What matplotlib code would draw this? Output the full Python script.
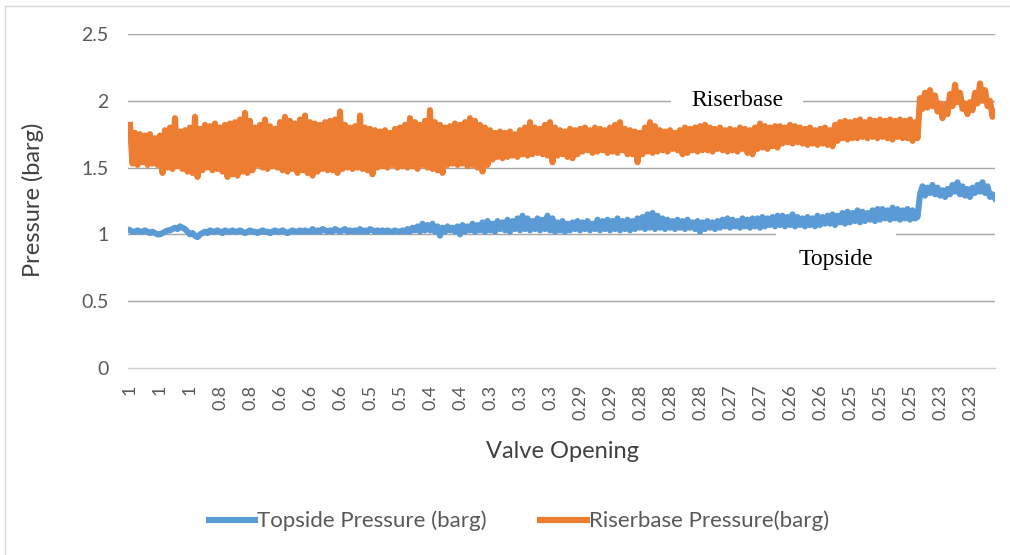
import matplotlib
matplotlib.use("Agg")
import matplotlib.pyplot as plt
from matplotlib.lines import Line2D
import numpy as np

# ---- data ----
tick_labels = ["1", "1", "1", "0.8", "0.8", "0.6", "0.6", "0.6", "0.5", "0.5",
               "0.4", "0.4", "0.3", "0.3", "0.3", "0.29", "0.29", "0.28", "0.28",
               "0.28", "0.27", "0.27", "0.26", "0.26", "0.25", "0.25", "0.25",
               "0.23", "0.23"]
tick_step = 12

riserbase = [
    1.82, 1.53, 1.76, 1.52, 1.75, 1.54, 1.74, 1.52, 1.75, 1.53,
    1.72, 1.52, 1.74, 1.46, 1.78, 1.50, 1.80, 1.49, 1.87, 1.51,
    1.77, 1.49, 1.78, 1.47, 1.80, 1.46, 1.88, 1.43, 1.79, 1.48,
    1.82, 1.50, 1.81, 1.48, 1.83, 1.49, 1.80, 1.47, 1.82, 1.43,
    1.83, 1.45, 1.84, 1.44, 1.86, 1.47, 1.91, 1.46, 1.85, 1.48,
    1.80, 1.52, 1.82, 1.50, 1.86, 1.49, 1.81, 1.51, 1.79, 1.50,
    1.84, 1.48, 1.88, 1.47, 1.85, 1.49, 1.83, 1.46, 1.86, 1.48,
    1.89, 1.46, 1.84, 1.44, 1.83, 1.47, 1.82, 1.49, 1.84, 1.48,
    1.85, 1.48, 1.86, 1.46, 1.92, 1.49, 1.82, 1.50, 1.80, 1.49,
    1.81, 1.50, 1.89, 1.49, 1.80, 1.48, 1.79, 1.45, 1.78, 1.50,
    1.77, 1.51, 1.78, 1.50, 1.76, 1.52, 1.79, 1.50, 1.80, 1.51,
    1.82, 1.50, 1.87, 1.51, 1.84, 1.49, 1.82, 1.52, 1.85, 1.50,
    1.93, 1.49, 1.84, 1.48, 1.82, 1.46, 1.80, 1.52, 1.81, 1.53,
    1.83, 1.52, 1.82, 1.53, 1.84, 1.51, 1.87, 1.52, 1.85, 1.50,
    1.82, 1.47, 1.80, 1.52, 1.78, 1.56, 1.76, 1.58, 1.77, 1.57,
    1.76, 1.58, 1.77, 1.59, 1.75, 1.58, 1.78, 1.60, 1.80, 1.59,
    1.84, 1.60, 1.80, 1.61, 1.79, 1.60, 1.82, 1.59, 1.84, 1.54,
    1.80, 1.59, 1.78, 1.60, 1.77, 1.58, 1.79, 1.57, 1.78, 1.60,
    1.79, 1.62, 1.80, 1.63, 1.78, 1.61, 1.80, 1.62, 1.79, 1.63,
    1.78, 1.61, 1.80, 1.62, 1.82, 1.61, 1.84, 1.63, 1.79, 1.60,
    1.78, 1.60, 1.77, 1.54, 1.76, 1.60, 1.80, 1.62, 1.84, 1.61,
    1.81, 1.62, 1.78, 1.63, 1.77, 1.62, 1.78, 1.64, 1.76, 1.63,
    1.78, 1.60, 1.80, 1.61, 1.79, 1.63, 1.80, 1.62, 1.81, 1.63,
    1.82, 1.63, 1.80, 1.62, 1.79, 1.64, 1.80, 1.63, 1.78, 1.62,
    1.79, 1.63, 1.78, 1.62, 1.80, 1.64, 1.79, 1.61, 1.78, 1.60,
    1.80, 1.64, 1.83, 1.65, 1.81, 1.64, 1.80, 1.66, 1.81, 1.65,
    1.81, 1.68, 1.80, 1.69, 1.82, 1.68, 1.81, 1.69, 1.80, 1.68,
    1.79, 1.67, 1.80, 1.68, 1.78, 1.67, 1.79, 1.68, 1.80, 1.67,
    1.78, 1.66, 1.82, 1.70, 1.84, 1.72, 1.85, 1.71, 1.84, 1.72,
    1.85, 1.72, 1.86, 1.73, 1.84, 1.72, 1.86, 1.73, 1.85, 1.72,
    1.86, 1.73, 1.85, 1.72, 1.86, 1.71, 1.85, 1.73, 1.86, 1.72,
    1.85, 1.72, 1.86, 1.70, 1.84, 1.72, 2.02, 1.94, 2.06, 1.95,
    2.08, 1.96, 2.04, 1.92, 1.98, 1.87, 1.97, 1.90, 2.05, 1.96,
    2.12, 1.99, 2.06, 1.94, 1.98, 1.90, 1.99, 1.93, 2.06, 1.98,
    2.13, 2.00, 2.08, 1.96, 2.00, 1.88, 1.92,
]

topside = [
    1.03, 1.02, 1.02, 1.03, 1.02, 1.02, 1.03, 1.02, 1.01, 1.02,
    1.01, 1.00, 1.00, 1.01, 1.02, 1.03, 1.03, 1.04, 1.05, 1.04,
    1.06, 1.05, 1.04, 1.02, 1.00, 1.01, 0.99, 0.98, 1.00, 1.01,
    1.02, 1.01, 1.03, 1.02, 1.02, 1.03, 1.02, 1.01, 1.03, 1.02,
    1.02, 1.03, 1.02, 1.02, 1.03, 1.02, 1.01, 1.02, 1.03, 1.02,
    1.02, 1.01, 1.02, 1.03, 1.02, 1.02, 1.01, 1.02, 1.03, 1.02,
    1.02, 1.03, 1.02, 1.01, 1.02, 1.03, 1.02, 1.02, 1.03, 1.02,
    1.03, 1.02, 1.02, 1.04, 1.02, 1.03, 1.02, 1.04, 1.03, 1.02,
    1.03, 1.02, 1.04, 1.03, 1.02, 1.03, 1.04, 1.02, 1.03, 1.02,
    1.03, 1.02, 1.04, 1.02, 1.03, 1.02, 1.04, 1.03, 1.02, 1.03,
    1.02, 1.03, 1.02, 1.03, 1.02, 1.02, 1.03, 1.02, 1.02, 1.03,
    1.02, 1.04, 1.02, 1.05, 1.03, 1.06, 1.02, 1.08, 1.03, 1.07,
    1.03, 1.08, 1.02, 1.06, 0.99, 1.05, 1.02, 1.06, 1.03, 1.05,
    1.02, 1.06, 1.00, 1.07, 1.02, 1.06, 1.03, 1.08, 1.02, 1.07,
    1.03, 1.09, 1.02, 1.10, 1.03, 1.08, 1.02, 1.10, 1.04, 1.09,
    1.03, 1.11, 1.02, 1.10, 1.04, 1.12, 1.03, 1.14, 1.04, 1.12,
    1.03, 1.10, 1.04, 1.12, 1.03, 1.11, 1.04, 1.14, 1.03, 1.12,
    1.02, 1.09, 1.03, 1.10, 1.02, 1.08, 1.03, 1.09, 1.04, 1.10,
    1.03, 1.09, 1.04, 1.10, 1.03, 1.08, 1.04, 1.11, 1.03, 1.10,
    1.04, 1.11, 1.03, 1.10, 1.04, 1.12, 1.03, 1.10, 1.04, 1.11,
    1.03, 1.10, 1.04, 1.12, 1.05, 1.13, 1.04, 1.15, 1.05, 1.16,
    1.04, 1.14, 1.05, 1.12, 1.04, 1.11, 1.05, 1.10, 1.04, 1.11,
    1.05, 1.10, 1.04, 1.11, 1.05, 1.09, 1.04, 1.10, 1.02, 1.09,
    1.04, 1.10, 1.05, 1.09, 1.04, 1.10, 1.05, 1.11, 1.06, 1.12,
    1.05, 1.11, 1.06, 1.10, 1.05, 1.12, 1.06, 1.11, 1.05, 1.12,
    1.06, 1.12, 1.05, 1.13, 1.06, 1.12, 1.07, 1.13, 1.06, 1.14,
    1.07, 1.14, 1.06, 1.13, 1.07, 1.15, 1.06, 1.13, 1.07, 1.12,
    1.06, 1.13, 1.07, 1.12, 1.06, 1.14, 1.07, 1.13, 1.08, 1.14,
    1.08, 1.15, 1.07, 1.14, 1.09, 1.16, 1.08, 1.17, 1.09, 1.16,
    1.10, 1.18, 1.09, 1.17, 1.10, 1.16, 1.11, 1.18, 1.10, 1.19,
    1.11, 1.19, 1.12, 1.18, 1.11, 1.20, 1.12, 1.19, 1.11, 1.18,
    1.12, 1.19, 1.11, 1.18, 1.12, 1.13, 1.30, 1.36, 1.29, 1.35,
    1.31, 1.37, 1.30, 1.35, 1.29, 1.33, 1.28, 1.34, 1.30, 1.37,
    1.32, 1.39, 1.30, 1.36, 1.29, 1.34, 1.28, 1.35, 1.31, 1.37,
    1.32, 1.39, 1.31, 1.36, 1.28, 1.30, 1.27,
]

y_ticks = [0, 0.5, 1, 1.5, 2, 2.5]
y_tick_labels = ["0", "0.5", "1", "1.5", "2", "2.5"]

blue = "#5b9bd5"
orange = "#ed7d31"
label_col = "#595959"

plt.rcParams['font.family'] = ['Lato', 'DejaVu Sans']

W, H = 1010, 555
fig = plt.figure(figsize=(W / 100, H / 100), dpi=100)
ax = fig.add_axes([128 / W, 1 - 368 / H, (995 - 128) / W, (368 - 34) / H])

ax.plot(np.arange(len(topside)), topside, color=blue, lw=4.4,
        solid_joinstyle='round', zorder=3)
ax.plot(np.arange(len(riserbase)), riserbase, color=orange, lw=4.4,
        solid_joinstyle='round', zorder=3)

ax.set_xlim(-0.8, 346)
ax.set_ylim(0, 2.5)

ax.set_yticks(y_ticks)
ax.set_yticklabels(y_tick_labels)
ticks_x = [i * tick_step for i in range(len(tick_labels))]
ax.set_xticks(ticks_x)
ax.set_xticklabels(tick_labels, rotation=90, va='top', ha='center')

ax.tick_params(axis='y', length=0, pad=14, labelsize=14, labelcolor=label_col)
ax.tick_params(axis='x', length=0, pad=12, labelsize=13, labelcolor=label_col)

for s in ['top', 'right', 'left']:
    ax.spines[s].set_visible(False)
ax.spines['bottom'].set_color('#d0d0d0')
ax.spines['bottom'].set_linewidth(1.0)

ax.yaxis.grid(True, color='#a6a6a6', lw=1.0, zorder=0)
ax.set_axisbelow(True)
for gl, yv in zip(ax.yaxis.get_gridlines(), y_ticks):
    if yv == 0:
        gl.set_visible(False)

ax.set_ylabel("Pressure (barg)", fontsize=17, color='#404040')
ax.yaxis.set_label_coords((33 - 128) / (995 - 128), (368 - 200) / (368 - 34))
ax.set_xlabel("Valve Opening", fontsize=17, color='#404040')
ax.xaxis.set_label_coords((562 - 128) / (995 - 128), -(452 - 368) / (368 - 34))
ax.xaxis.label.set_va('center')
ax.yaxis.label.set_va('center')

# annotations with white boxes over gridlines
ax.text((737 - 130) / 2.5, 2.0, "Riserbase", family=['Liberation Serif'], fontsize=17,
        color='black', ha='center', va='center', zorder=2,
        bbox=dict(boxstyle='square,pad=0.85', fc='white', ec='none'))
ax.text((836 - 130) / 2.5, (368 - 259) / 133.6, "Topside", family=['Liberation Serif'],
        fontsize=17, color='black', ha='center', va='center', zorder=2,
        bbox=dict(boxstyle='square,pad=0.95', fc='white', ec='none'))

handles = [Line2D([0], [0], color=blue, lw=4.4),
           Line2D([0], [0], color=orange, lw=4.4)]
fig.legend(handles, ["Topside Pressure (barg)", "Riserbase Pressure(barg)"],
           loc='center', bbox_to_anchor=(519 / W, 1 - 521 / H), ncol=2,
           frameon=False, fontsize=16, labelcolor=label_col,
           handlelength=2.1, handletextpad=0.1, columnspacing=2.4)

# chart border (top and left visible)
fig.add_artist(Line2D([5 / W, 1], [1 - 6 / H, 1 - 6 / H], color='#d9d9d9', lw=1,
                      transform=fig.transFigure))
fig.add_artist(Line2D([5 / W, 5 / W], [0, 1 - 6 / H], color='#d9d9d9', lw=1,
                      transform=fig.transFigure))

fig.savefig("out.png", dpi=100)
